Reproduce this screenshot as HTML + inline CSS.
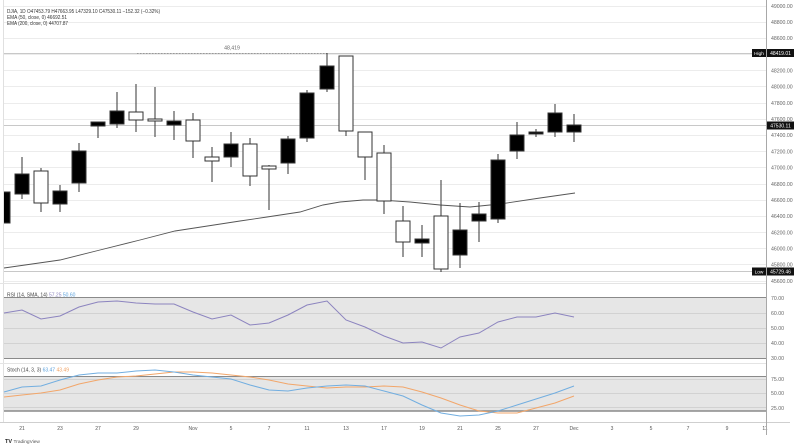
<!DOCTYPE html>
<html><head><meta charset="utf-8"><style>
html,body{margin:0;padding:0;background:#fff;}
svg{display:block;}
text{font-family:"Liberation Sans",sans-serif;}
</style></head><body>
<svg width="800" height="448" viewBox="0 0 800 448" xmlns="http://www.w3.org/2000/svg">
<defs><clipPath id="pc"><rect x="4" y="0" width="762" height="282"/></clipPath></defs>
<rect width="800" height="448" fill="#fff"/>
<!-- price gridlines -->
<g stroke="#ececec" stroke-width="1">
<line x1="4" x2="766" y1="6.5" y2="6.5"/><line x1="4" x2="766" y1="22.5" y2="22.5"/><line x1="4" x2="766" y1="38.5" y2="38.5"/><line x1="4" x2="766" y1="54.5" y2="54.5"/><line x1="4" x2="766" y1="70.5" y2="70.5"/><line x1="4" x2="766" y1="86.5" y2="86.5"/><line x1="4" x2="766" y1="103.5" y2="103.5"/><line x1="4" x2="766" y1="119.5" y2="119.5"/><line x1="4" x2="766" y1="135.5" y2="135.5"/><line x1="4" x2="766" y1="151.5" y2="151.5"/><line x1="4" x2="766" y1="167.5" y2="167.5"/><line x1="4" x2="766" y1="184.5" y2="184.5"/><line x1="4" x2="766" y1="200.5" y2="200.5"/><line x1="4" x2="766" y1="216.5" y2="216.5"/><line x1="4" x2="766" y1="232.5" y2="232.5"/><line x1="4" x2="766" y1="248.5" y2="248.5"/><line x1="4" x2="766" y1="264.5" y2="264.5"/><line x1="4" x2="766" y1="281.5" y2="281.5"/>
</g>
<!-- high/last/low lines -->
<g stroke="#c8c8c8" stroke-width="1">
<line x1="4" x2="766" y1="53.5" y2="53.5"/>
<line x1="4" x2="766" y1="125.5" y2="125.5"/>
<line x1="4" x2="766" y1="271.5" y2="271.5"/>
</g>
<line x1="137" x2="327" y1="53.5" y2="53.5" stroke="#888" stroke-width="0.8" stroke-dasharray="1.5,1.5"/>
<text x="232" y="49.5" font-size="5.2" fill="#666" text-anchor="middle">48,419</text>
<line x1="3.5" x2="3.5" y1="0" y2="422" stroke="#e0e0e0"/>
<!-- EMA 200 -->
<path d="M4,268 L60,260 L100,250 L140,240 L175,231 L240,221 L267,217 L300,212 L323,205 L340,202 L363,200 L380,200 L410,202 L440,205 L470,207 L500,204 L540,198 L575,193" fill="none" stroke="#555" stroke-width="0.9" clip-path="url(#pc)"/>
<!-- candles -->
<g clip-path="url(#pc)" stroke="#333" stroke-width="1">
<line x1="3" x2="3" y1="186" y2="226"/><rect x="-4" y="192" width="14" height="31" fill="#000"/>
<line x1="22" x2="22" y1="157" y2="199"/><rect x="15" y="174" width="14" height="20" fill="#000"/>
<line x1="41" x2="41" y1="168" y2="212"/><rect x="34" y="171" width="14" height="32" fill="#fff"/>
<line x1="60" x2="60" y1="185" y2="212"/><rect x="53" y="191" width="14" height="13" fill="#000"/>
<line x1="79" x2="79" y1="143" y2="192"/><rect x="72" y="151" width="14" height="32" fill="#000"/>
<line x1="98" x2="98" y1="122" y2="138"/><rect x="91" y="122" width="14" height="4" fill="#000"/>
<line x1="117" x2="117" y1="92" y2="128"/><rect x="110" y="111" width="14" height="13" fill="#000"/>
<line x1="136" x2="136" y1="84" y2="132"/><rect x="129" y="112" width="14" height="8" fill="#fff"/>
<line x1="155" x2="155" y1="87" y2="137"/><rect x="148" y="119" width="14" height="2" fill="#fff"/>
<line x1="174" x2="174" y1="111" y2="140"/><rect x="167" y="121" width="14" height="4" fill="#000"/>
<line x1="193" x2="193" y1="113" y2="158"/><rect x="186" y="120" width="14" height="21" fill="#fff"/>
<line x1="212" x2="212" y1="147" y2="182"/><rect x="205" y="157" width="14" height="4" fill="#fff"/>
<line x1="231" x2="231" y1="132" y2="167"/><rect x="224" y="144" width="14" height="13" fill="#000"/>
<line x1="250" x2="250" y1="138" y2="186"/><rect x="243" y="144" width="14" height="32" fill="#fff"/>
<line x1="269" x2="269" y1="165" y2="210"/><rect x="262" y="166" width="14" height="3" fill="#fff"/>
<line x1="288" x2="288" y1="136" y2="174"/><rect x="281" y="139" width="14" height="24" fill="#000"/>
<line x1="307" x2="307" y1="90" y2="142"/><rect x="300" y="93" width="14" height="45" fill="#000"/>
<line x1="327" x2="327" y1="53" y2="92"/><rect x="320" y="66" width="14" height="23" fill="#000"/>
<line x1="346" x2="346" y1="56" y2="136"/><rect x="339" y="56" width="14" height="75" fill="#fff"/>
<line x1="365" x2="365" y1="132" y2="180"/><rect x="358" y="132" width="14" height="25" fill="#fff"/>
<line x1="384" x2="384" y1="145" y2="214"/><rect x="377" y="153" width="14" height="48" fill="#fff"/>
<line x1="403" x2="403" y1="206" y2="257"/><rect x="396" y="221" width="14" height="21" fill="#fff"/>
<line x1="422" x2="422" y1="225" y2="257"/><rect x="415" y="239" width="14" height="4" fill="#000"/>
<line x1="441" x2="441" y1="180" y2="272"/><rect x="434" y="216" width="14" height="53" fill="#fff"/>
<line x1="460" x2="460" y1="203" y2="268"/><rect x="453" y="230" width="14" height="25" fill="#000"/>
<line x1="479" x2="479" y1="202" y2="242"/><rect x="472" y="214" width="14" height="7" fill="#000"/>
<line x1="498" x2="498" y1="154" y2="223"/><rect x="491" y="160" width="14" height="59" fill="#000"/>
<line x1="517" x2="517" y1="122" y2="159"/><rect x="510" y="135" width="14" height="16" fill="#000"/>
<line x1="536" x2="536" y1="129" y2="137"/><rect x="529" y="132" width="14" height="2" fill="#000"/>
<line x1="555" x2="555" y1="104" y2="137"/><rect x="548" y="113" width="14" height="19" fill="#000"/>
<line x1="574" x2="574" y1="114" y2="142"/><rect x="567" y="125" width="14" height="7" fill="#000"/>
</g>
<!-- header legend -->
<text x="7" y="12.8" font-size="5" fill="#333" textLength="153" lengthAdjust="spacingAndGlyphs">DJIA, 1D  O47453.79  H47663.95  L47329.10  C47530.11  −152.32 (−0.32%)</text>
<text x="7" y="18.8" font-size="5" fill="#333" textLength="60" lengthAdjust="spacingAndGlyphs">EMA (50, close, 0)  46692.51</text>
<text x="7" y="24.8" font-size="5" fill="#333" textLength="61" lengthAdjust="spacingAndGlyphs">EMA (200, close, 0)  44707.87</text>
<!-- pane separators -->
<line x1="0" x2="766" y1="283.5" y2="283.5" stroke="#e4e4e4"/>
<line x1="0" x2="766" y1="363.5" y2="363.5" stroke="#e4e4e4"/>
<!-- RSI pane -->
<rect x="4" y="297" width="762" height="61" fill="#e6e6e6"/>
<g stroke="#d2d2d2" stroke-width="1">
<line x1="4" x2="766" y1="313.5" y2="313.5"/><line x1="4" x2="766" y1="328.5" y2="328.5"/><line x1="4" x2="766" y1="343.5" y2="343.5"/>
</g>
<line x1="4" x2="766" y1="297.5" y2="297.5" stroke="#8a8a8a"/>
<line x1="4" x2="766" y1="358.5" y2="358.5" stroke="#8a8a8a"/>
<polyline points="4,313 22,310 41,319 60,316 79,307 98,302 117,301 136,303 155,304 174,304 193,312 212,319 231,315 250,325 269,323 288,315 307,305 327,301 346,320 365,327 384,336 403,343 422,342 441,348 460,337 479,333 498,322 517,317 536,317 555,313 574,317" fill="none" stroke="#8c84bf" stroke-width="1"/>
<text x="7" y="296.5" font-size="5" fill="#444">RSI (14, SMA, 14) <tspan fill="#8c84bf">57.25</tspan> <tspan fill="#5aa0dc">50.60</tspan></text>
<!-- Stoch pane -->
<rect x="4" y="376" width="762" height="35" fill="#e6e6e6"/>
<g stroke="#d2d2d2" stroke-width="1">
<line x1="4" x2="766" y1="379.5" y2="379.5"/><line x1="4" x2="766" y1="393.5" y2="393.5"/><line x1="4" x2="766" y1="407.5" y2="407.5"/>
</g>
<line x1="4" x2="766" y1="376.5" y2="376.5" stroke="#8a8a8a"/>
<line x1="4" x2="766" y1="411" y2="411" stroke="#8a8a8a" stroke-width="1.6"/>
<polyline points="4,397 22,395 41,393 60,390 79,384 98,380 117,377 136,376 155,374 174,372 193,372 212,373 231,375 250,377 269,380 288,384 307,386 327,388 346,387 365,387 384,386 403,387 422,392 441,398 460,405 479,411 498,413 517,413 536,408 555,403 574,396" fill="none" stroke="#f2a66a" stroke-width="1"/>
<polyline points="4,392 22,387 41,386 60,380 79,375 98,373 117,373 136,371 155,370 174,372 193,375 212,377 231,379 250,385 269,390 288,391 307,388 327,386 346,385 365,386 384,391 403,396 422,405 441,413 460,416 479,415 498,411 517,405 536,399 555,393 574,386" fill="none" stroke="#72aee0" stroke-width="1"/>
<text x="7" y="371.5" font-size="5" fill="#444">Stoch (14, 3, 3) <tspan fill="#5aa0dc">63.47</tspan> <tspan fill="#f0a060">43.49</tspan></text>
<!-- x axis -->
<line x1="0" x2="790" y1="422.5" y2="422.5" stroke="#cfcfcf"/>
<g font-size="5" fill="#555" text-anchor="middle">
<text x="22" y="430">21</text><text x="60" y="430">23</text><text x="98" y="430">27</text><text x="136" y="430">29</text><text x="193" y="430">Nov</text><text x="231" y="430">5</text><text x="269" y="430">7</text><text x="307" y="430">11</text><text x="346" y="430">13</text><text x="384" y="430">17</text><text x="422" y="430">19</text><text x="460" y="430">21</text><text x="498" y="430">25</text><text x="536" y="430">27</text><text x="574" y="430">Dec</text><text x="612" y="430">3</text><text x="651" y="430">5</text><text x="688" y="430">7</text><text x="727" y="430">9</text><text x="765" y="430">11</text>
</g>
<!-- right axis -->
<line x1="766.5" x2="766.5" y1="0" y2="435" stroke="#a8a8a8"/>
<g font-size="5.2" fill="#666">
<text x="771" y="7.8">49000.00</text><text x="771" y="24">48800.00</text><text x="771" y="40.2">48600.00</text><text x="771" y="72.5">48200.00</text><text x="771" y="88.7">48000.00</text><text x="771" y="104.9">47800.00</text><text x="771" y="121.1">47600.00</text><text x="771" y="137.2">47400.00</text><text x="771" y="153.4">47200.00</text><text x="771" y="169.6">47000.00</text><text x="771" y="185.8">46800.00</text><text x="771" y="202">46600.00</text><text x="771" y="218.1">46400.00</text><text x="771" y="234.3">46200.00</text><text x="771" y="250.5">46000.00</text><text x="771" y="266.7">45800.00</text><text x="771" y="282.9">45600.00</text>
<text x="771" y="299.8">70.00</text><text x="771" y="314.8">60.00</text><text x="771" y="329.8">50.00</text><text x="771" y="344.8">40.00</text><text x="771" y="359.8">30.00</text>
<text x="771" y="380.8">75.00</text><text x="771" y="394.8">50.00</text><text x="771" y="409.8">25.00</text>
</g>
<rect x="752" y="49" width="14" height="8" fill="#111"/>
<text x="759" y="54.8" font-size="4.8" fill="#fff" text-anchor="middle">High</text>
<rect x="767" y="49" width="27" height="8" fill="#111"/>
<text x="780.5" y="54.8" font-size="5" fill="#fff" text-anchor="middle">48419.01</text>
<rect x="767" y="121.5" width="27" height="8" fill="#111"/>
<text x="780.5" y="127.3" font-size="5" fill="#fff" text-anchor="middle">47530.11</text>
<rect x="752" y="267.5" width="14" height="8" fill="#111"/>
<text x="759" y="273.3" font-size="4.8" fill="#fff" text-anchor="middle">Low</text>
<rect x="767" y="267.5" width="27" height="8" fill="#111"/>
<text x="780.5" y="273.3" font-size="5" fill="#fff" text-anchor="middle">45729.46</text>
<!-- logo -->
<text x="5" y="443" font-size="5.5" font-weight="bold" fill="#222">TV</text>
<text x="13.5" y="443" font-size="4.8" fill="#555">TradingView</text>
</svg>
</body></html>
